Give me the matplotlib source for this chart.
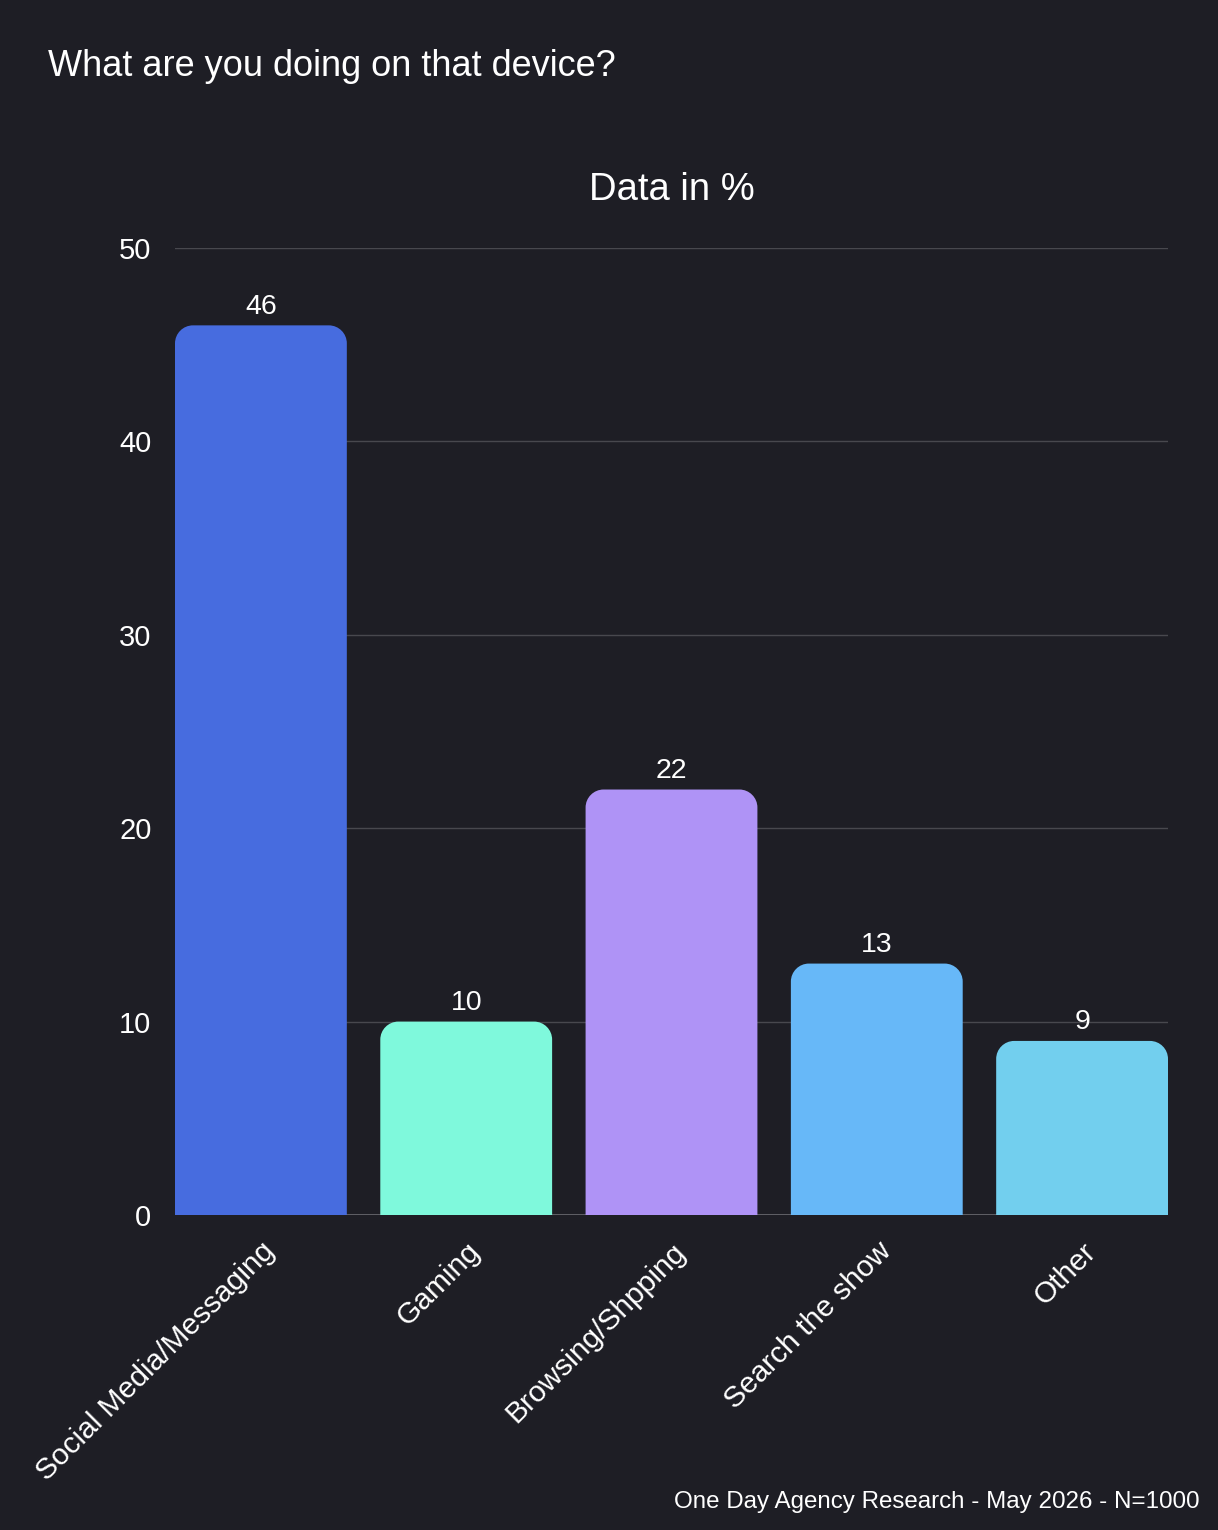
import matplotlib
matplotlib.use("Agg")
import matplotlib.pyplot as plt
from matplotlib.path import Path
from matplotlib.patches import PathPatch

# chart data
categories = ["Social Media/Messaging", "Gaming", "Browsing/Shpping",
              "Search the show", "Other"]
values = [46, 10, 22, 13, 9]
bar_colors = ["#476CDF", "#7FF9DC", "#AF93F6", "#67B8F8", "#72CFEE"]
y_ticks = [0, 10, 20, 30, 40, 50]

title = "What are you doing on that device?"
subtitle = "Data in %"
footer = "One Day Agency Research - May 2026 - N=1000"

bg = "#1E1E25"
grid_col = "#48484E"
plt.rcParams['font.family'] = ['Liberation Sans', 'DejaVu Sans']

W, H = 1218, 1530
fig = plt.figure(figsize=(W / 100, H / 100), dpi=100, facecolor=bg)
ax = fig.add_axes([175 / W, 315 / H, 993 / W, 967 / H])
ax.set_facecolor(bg)

bw = 0.837
xs = list(range(len(categories)))
ax.set_xlim(-bw / 2, xs[-1] + bw / 2)
ax.set_ylim(0, 50)


def rounded_bar(ax, x, h, w, color, r_px=18):
    """bar with rounded top corners, radius given in pixels"""
    bbox = ax.get_window_extent()
    x0, x1 = ax.get_xlim()
    y0, y1 = ax.get_ylim()
    rx = r_px / (bbox.width / (x1 - x0))
    ry = r_px / (bbox.height / (y1 - y0))
    ry = min(ry, h)
    k = 0.5523
    l, r = x - w / 2, x + w / 2
    verts = [(l, 0), (l, h - ry),
             (l, h - ry + k * ry), (l + rx - k * rx, h), (l + rx, h),
             (r - rx, h),
             (r - rx + k * rx, h), (r, h - ry + k * ry), (r, h - ry),
             (r, 0), (l, 0)]
    codes = [Path.MOVETO, Path.LINETO,
             Path.CURVE4, Path.CURVE4, Path.CURVE4,
             Path.LINETO,
             Path.CURVE4, Path.CURVE4, Path.CURVE4,
             Path.LINETO, Path.CLOSEPOLY]
    patch = PathPatch(Path(verts, codes), facecolor=color, edgecolor='none', zorder=2)
    ax.add_patch(patch)
    return patch


for x, v, c in zip(xs, values, bar_colors):
    rounded_bar(ax, x, v, bw, c)
    ax.annotate(str(v), (x, v), xytext=(0, 4), textcoords='offset points',
                ha='center', va='bottom', color='white', fontsize=20.5, zorder=3)

# grid + axes styling
ax.set_yticks(y_ticks)
ax.grid(axis='y', color=grid_col, linewidth=1, zorder=0)
ax.set_axisbelow(True)
for s in ax.spines.values():
    s.set_visible(False)
ax.axhline(0, color="#6A6A70", linewidth=1.2, zorder=1)
ax.tick_params(axis='y', length=0, pad=17, labelsize=21, labelcolor='white')
ax.tick_params(axis='x', length=0, pad=16, labelsize=21.5, labelcolor='white')
ax.set_xticks(xs)
ax.set_xticklabels(categories, rotation=45, ha='right', va='top',
                   rotation_mode='anchor')

fig.text(48 / W, 1 - 76 / H, title, color='white', fontsize=26, va='baseline')
fig.text(672 / W, 1 - 200 / H, subtitle, color='white', fontsize=27.5,
         ha='center', va='baseline')
fig.text(1200 / W, 1 - 1508 / H, footer, color='white', fontsize=17.4,
         ha='right', va='baseline')

fig.savefig("out.png", dpi=100, facecolor=bg)
